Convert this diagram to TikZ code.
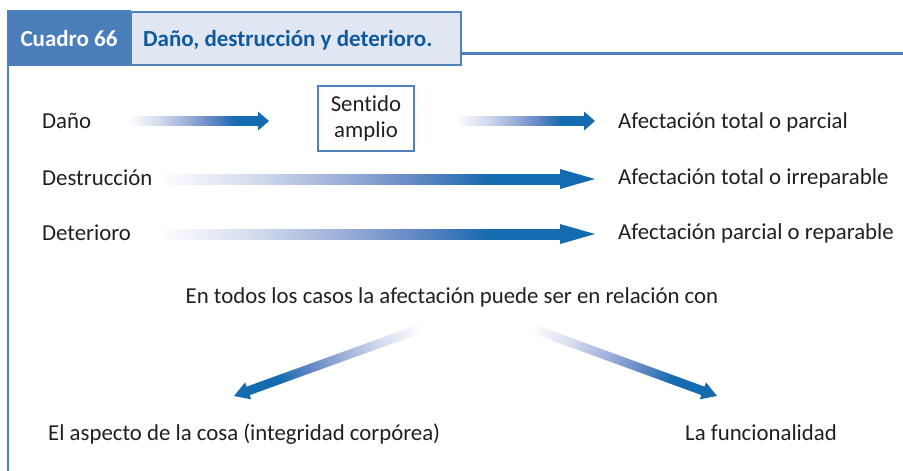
\documentclass[tikz,border=0pt]{standalone}
\usepackage{fontspec}
\setmainfont{Carlito}[Ligatures={NoCommon}]
\usetikzlibrary{calc}
\definecolor{arrowblue}{HTML}{156BB0}
\definecolor{fadeA}{HTML}{D3DBEE}
\definecolor{fadeB}{HTML}{9AAED8}
\definecolor{fadeC}{HTML}{5C84C2}
\definecolor{frameblue}{HTML}{4F81BD}
\definecolor{headdark}{HTML}{4A7EBB}
\definecolor{headlight}{HTML}{E1E6F3}
\definecolor{titleblue}{HTML}{0F5A9C}
\definecolor{txt}{HTML}{231F20}
\pgfdeclarehorizontalshading{arrowfade}{100bp}{color(0bp)=(white); color(25bp)=(white); color(37bp)=(fadeA); color(48bp)=(fadeB); color(58bp)=(fadeC); color(66bp)=(arrowblue); color(100bp)=(arrowblue)}
% #1 start, #2 end, #3 shaft half width, #4 head length, #5 head half width
\newcommand\gradarrow[5]{%
  \path let \p1=($(#2)-(#1)$) in \pgfextra{%
    \pgfmathsetmacro\garang{atan2(\y1,\x1)}%
    \pgfmathsetmacro\garlen{veclen(\x1,\y1)}%
    \global\let\garang\garang\global\let\garlen\garlen};
  \begin{scope}[transform canvas={shift={(#1)},rotate=\garang}]
    \shade[shading=arrowfade] (0,-#3) rectangle (\garlen-#4+0.5,#3);
    \fill[arrowblue] (\garlen-#4,-#5) -- (\garlen,0) -- (\garlen-#4,#5) -- cycle;
  \end{scope}}
\tikzset{
  txtnode/.style={text=txt,font=\fontsize{22.8}{26}\selectfont,inner sep=0pt,anchor=base west},
  headtxt/.style={font=\bfseries\fontsize{23}{26}\selectfont,inner sep=0pt},
}
\begin{document}
\begin{tikzpicture}[x=1pt,y=-1pt]
\useasboundingbox[fill=white] (0,0) rectangle (903,471);
% frame
\draw[frameblue,line width=2.2pt] (8,66) -- (8,472);
\draw[frameblue,line width=3pt] (461,53) -- (904,53);
% header
\fill[headdark] (7,10) rectangle (131,66);
\draw[frameblue,line width=2pt,fill=headlight] (131,12) rectangle (461,65);
\node[headtxt,text=white,anchor=base] (cuadro) at (69,46) {Cuadro 66};
\node[headtxt,text=titleblue,anchor=base west] (titulo) at (143,46) {Daño, destrucción y deterioro.};
% left labels
\node[txtnode] (dano) at (42,128) {Daño};
\node[txtnode] (destr) at (42,185) {Destrucción};
\node[txtnode] (deter) at (42,240) {Deterioro};
% box
\node[draw=frameblue,line width=2pt,minimum width=96pt,minimum height=65pt,inner sep=0pt,align=center,text=txt,font=\fontsize{22.8}{26}\selectfont] (sentido) at (366,118.5) {Sentido\\amplio};
% right labels
\node[txtnode] (r1) at (618,128) {Afectación total o parcial};
\node[txtnode] (r2) at (618,184) {Afectación total o irreparable};
\node[txtnode] (r3) at (618,239) {Afectación parcial o reparable};
\node[txtnode,anchor=base] (todos) at (452,303) {En todos los casos la afectación puede ser en relación con};
\node[txtnode] (aspecto) at (48,440) {El aspecto de la cosa (integridad corpórea)};
\node[txtnode] (func) at (685,440) {La funcionalidad};
% arrow coordinates
\coordinate (a1s) at (128,121); \coordinate (a1e) at (269,121);
\coordinate (a2s) at (455,121); \coordinate (a2e) at (595,121);
\coordinate (a3s) at (158,179); \coordinate (a3e) at (595,179);
\coordinate (a4s) at (158,234); \coordinate (a4e) at (595,234);
\coordinate (a5s) at (422,328); \coordinate (a5e) at (234,396);
\coordinate (a6s) at (531,328); \coordinate (a6e) at (717,396);
\gradarrow{a1s}{a1e}{4.3}{11}{9.5}
\gradarrow{a2s}{a2e}{4.3}{11}{9.5}
\gradarrow{a3s}{a3e}{5}{35}{10}
\gradarrow{a4s}{a4e}{5}{35}{10}
\gradarrow{a5s}{a5e}{4.5}{15}{9}
\gradarrow{a6s}{a6e}{4.5}{15}{9}
\end{tikzpicture}
\end{document}
